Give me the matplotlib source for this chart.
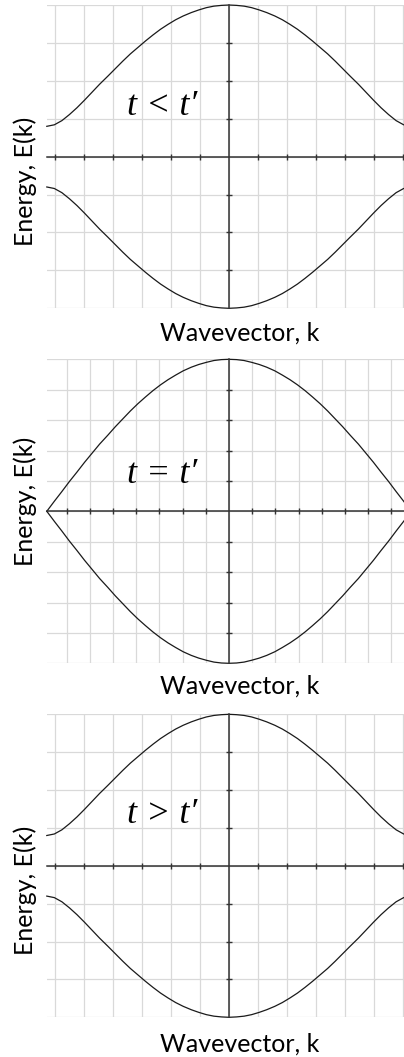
import numpy as np
import matplotlib
matplotlib.use("Agg")
import matplotlib.pyplot as plt

plt.rcParams['font.family'] = ['Lato', 'DejaVu Sans']

########### BANDAS E(k) LIDAS PONTO A PONTO ##########
# k de -pi a pi em passos de pi/24
k_vals = [-3.14, -3.01, -2.88, -2.75, -2.62, -2.49, -2.36, -2.23, -2.09, -1.96, -1.83, -1.70,
          -1.57, -1.44, -1.31, -1.18, -1.05, -0.92, -0.79, -0.65, -0.52, -0.39, -0.26, -0.13,
          0.0,
          0.13, 0.26, 0.39, 0.52, 0.65, 0.79, 0.92, 1.05, 1.18, 1.31, 1.44, 1.57,
          1.70, 1.83, 1.96, 2.09, 2.23, 2.36, 2.49, 2.62, 2.75, 2.88, 3.01, 3.14]

# t != t' : banda com gap
E_gap_sup = [0.80, 0.84, 0.95, 1.11, 1.29, 1.49, 1.70, 1.91, 2.12, 2.32, 2.52, 2.71,
             2.88, 3.05, 3.21, 3.36, 3.49, 3.61, 3.71, 3.80, 3.87, 3.93, 3.97, 3.99,
             4.00,
             3.99, 3.97, 3.93, 3.87, 3.80, 3.71, 3.61, 3.49, 3.36, 3.21, 3.05, 2.88,
             2.71, 2.52, 2.32, 2.12, 1.91, 1.70, 1.49, 1.29, 1.11, 0.95, 0.84, 0.80]
E_gap_inf = [-0.80, -0.84, -0.95, -1.11, -1.29, -1.49, -1.70, -1.91, -2.12, -2.32, -2.52, -2.71,
             -2.88, -3.05, -3.21, -3.36, -3.49, -3.61, -3.71, -3.80, -3.87, -3.93, -3.97, -3.99,
             -4.00,
             -3.99, -3.97, -3.93, -3.87, -3.80, -3.71, -3.61, -3.49, -3.36, -3.21, -3.05, -2.88,
             -2.71, -2.52, -2.32, -2.12, -1.91, -1.70, -1.49, -1.29, -1.11, -0.95, -0.84, -0.80]

# t = t' : gap fechado em k = +-pi
E_sem_gap_sup = [0.00, 0.33, 0.65, 0.98, 1.29, 1.61, 1.91, 2.21, 2.50, 2.78, 3.04, 3.30,
                 3.54, 3.76, 3.97, 4.16, 4.33, 4.48, 4.62, 4.74, 4.83, 4.90, 4.96, 4.99,
                 5.00,
                 4.99, 4.96, 4.90, 4.83, 4.74, 4.62, 4.48, 4.33, 4.16, 3.97, 3.76, 3.54,
                 3.30, 3.04, 2.78, 2.50, 2.21, 1.91, 1.61, 1.29, 0.98, 0.65, 0.33, 0.00]
E_sem_gap_inf = [0.00, -0.33, -0.65, -0.98, -1.29, -1.61, -1.91, -2.21, -2.50, -2.78, -3.04, -3.30,
                 -3.54, -3.76, -3.97, -4.16, -4.33, -4.48, -4.62, -4.74, -4.83, -4.90, -4.96, -4.99,
                 -5.00,
                 -4.99, -4.96, -4.90, -4.83, -4.74, -4.62, -4.48, -4.33, -4.16, -3.97, -3.76, -3.54,
                 -3.30, -3.04, -2.78, -2.50, -2.21, -1.91, -1.61, -1.29, -0.98, -0.65, -0.33, 0.00]

rotulos = ["t < t\u2032", "t = t\u2032", "t > t\u2032"]
#######################################################

W, H = 404, 1057
fig = plt.figure(figsize=(W / 100, H / 100), dpi=100)


def px(x, y):  # pixel -> fracao da figura
    return x / W, 1 - y / H


def painel(topo, base, sup, inf, ymax, passo_k, rotulo, y_rotulo, y_elabel, y_klabel):
    esq, larg = 46.7, 364.6
    ax = fig.add_axes([esq / W, 1 - base / H, larg / W, (base - topo) / H])
    ax.set_xlim(-np.pi, np.pi)
    ax.set_ylim(-ymax, ymax)

    n = int(np.pi / passo_k)
    kt = [i * passo_k for i in range(-n, n + 1)]
    et = list(range(-ymax, ymax + 1))

    # grade clara
    for x in kt:
        ax.axvline(x, color='#d9d9d9', lw=0.9, zorder=0)
    for y in et:
        ax.axhline(y, color='#d9d9d9', lw=0.9, zorder=0)

    # eixos cruzando na origem
    for s in ['top', 'right']:
        ax.spines[s].set_visible(False)
    ax.spines['left'].set_position(('data', 0))
    ax.spines['bottom'].set_position(('data', 0))
    for s in ['left', 'bottom']:
        ax.spines[s].set_color('#333333')
        ax.spines[s].set_linewidth(1.1)
    ax.set_xticks([x for x in kt if abs(x) > 1e-9])
    ax.set_yticks([y for y in et if y != 0 and abs(y) < ymax])
    ax.tick_params(direction='inout', length=5, width=1.0, color='#333333',
                   labelbottom=False, labelleft=False)
    ax.patch.set_visible(False)

    ax.plot(k_vals, sup, color='#1a1a1a', lw=0.9, clip_on=False)
    ax.plot(k_vals, inf, color='#1a1a1a', lw=0.9, clip_on=False)

    fig.text(*px(127.3, y_rotulo), rotulo, fontsize=26, family='Liberation Serif',
             style='italic', ha='left', va='baseline')
    fig.text(*px(25, y_elabel), 'Energy, E(k)', fontsize=18, rotation=90,
             ha='center', va='center')
    fig.text(*px(239.2, y_klabel), 'Wavevector, k', fontsize=18,
             ha='center', va='baseline')


painel(5, 308.3, E_gap_sup, E_gap_inf, 4, 0.5, rotulos[0], 115, 181.5, 340.7)
painel(359.3, 663.3, E_sem_gap_sup, E_sem_gap_inf, 5, 0.4, rotulos[1], 483.3, 501.5, 693.3)
painel(714.3, 1017.3, E_gap_sup, E_gap_inf, 4, 0.5, rotulos[2], 823, 890, 1051.7)

fig.savefig('out.png', dpi=100, facecolor='white')
